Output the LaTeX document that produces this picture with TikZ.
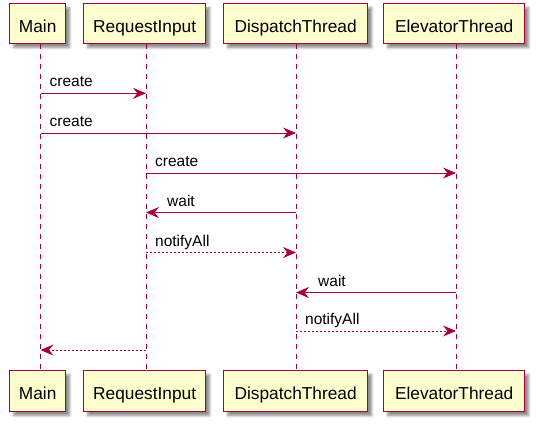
\documentclass[tikz,border=0pt]{standalone}
\usepackage{fontspec}
\setmainfont{Liberation Sans}
\usetikzlibrary{arrows.meta,shadows.blur}
\definecolor{umlred}{HTML}{A80036}
\definecolor{umlfill}{HTML}{FEFECE}
\tikzset{
  part/.style={draw=umlred, line width=1.3pt, fill=umlfill, anchor=north west,
    inner sep=0pt, text=black, font=\fontsize{17.3}{19}\selectfont,
    text height=17pt, text depth=0pt,
    blur shadow={shadow xshift=4pt, shadow yshift=-4pt, shadow blur radius=2.5pt, shadow opacity=45}},
  life/.style={draw=umlred, line width=0.9pt, dash pattern=on 5pt off 5pt},
  msg/.style={draw=umlred, line width=1pt, -{Stealth[length=13pt,width=11pt,inset=4.5pt]}},
  ret/.style={msg, dash pattern=on 2pt off 2pt},
  lbl/.style={anchor=base west, inner sep=0pt, text=black, font=\fontsize{15.5}{17}\selectfont},
}
\begin{document}
\begin{tikzpicture}[x=1pt,y=-1pt]
\useasboundingbox (0,0) rectangle (536,424);
% participants (top)
\node[part, minimum width=56pt, minimum height=40pt] (t1) at (9,3) {Main};
\node[part, minimum width=122pt, minimum height=40pt] (t2) at (83,3) {RequestInput};
\node[part, minimum width=144pt, minimum height=40pt] (t3) at (223,3) {DispatchThread};
\node[part, minimum width=141pt, minimum height=40pt] (t4) at (383,3) {ElevatorThread};
% participants (bottom)
\node[part, minimum width=56pt, minimum height=41pt] (b1) at (9,370) {Main};
\node[part, minimum width=122pt, minimum height=41pt] (b2) at (83,370) {RequestInput};
\node[part, minimum width=144pt, minimum height=41pt] (b3) at (223,370) {DispatchThread};
\node[part, minimum width=141pt, minimum height=41pt] (b4) at (383,370) {ElevatorThread};
% lifeline x positions
\coordinate (L1) at (40.5,0);
\coordinate (L2) at (146,0);
\coordinate (L3) at (296,0);
\coordinate (L4) at (456,0);
\draw[life] (t1.south -| L1) -- (b1.north -| L1);
\draw[life] (t2.south -| L2) -- (b2.north -| L2);
\draw[life] (t3.south -| L3) -- (b3.north -| L3);
\draw[life] (t4.south -| L4) -- (b4.north -| L4);
% message rows
\coordinate (r1) at (0,93.3);
\coordinate (r2) at (0,133);
\coordinate (r3) at (0,173);
\coordinate (r4) at (0,212.5);
\coordinate (r5) at (0,252.5);
\coordinate (r6) at (0,292.5);
\coordinate (r7) at (0,331);
\coordinate (r8) at (0,350);
% messages
\draw[msg] (L1 |- r1) -- (L2 |- r1);
\node[lbl] (l1) at ([shift={(9,-6.5)}]L1 |- r1) {create};
\draw[msg] (L1 |- r2) -- (L3 |- r2);
\node[lbl] (l2) at ([shift={(9,-6.5)}]L1 |- r2) {create};
\draw[msg] (L2 |- r3) -- (L4 |- r3);
\node[lbl] (l3) at ([shift={(9,-6.5)}]L2 |- r3) {create};
\draw[msg] (L3 |- r4) -- (L2 |- r4);
\node[lbl] (l4) at ([shift={(21,-6.5)}]L2 |- r4) {wait};
\draw[ret] (L2 |- r5) -- (L3 |- r5);
\node[lbl] (l5) at ([shift={(9,-6.5)}]L2 |- r5) {notifyAll};
\draw[msg] (L4 |- r6) -- (L3 |- r6);
\node[lbl] (l6) at ([shift={(22,-6.5)}]L3 |- r6) {wait};
\draw[ret] (L3 |- r7) -- (L4 |- r7);
\node[lbl] (l7) at ([shift={(9,-6.5)}]L3 |- r7) {notifyAll};
\draw[ret] (L2 |- r8) -- (L1 |- r8);
\end{tikzpicture}
\end{document}
